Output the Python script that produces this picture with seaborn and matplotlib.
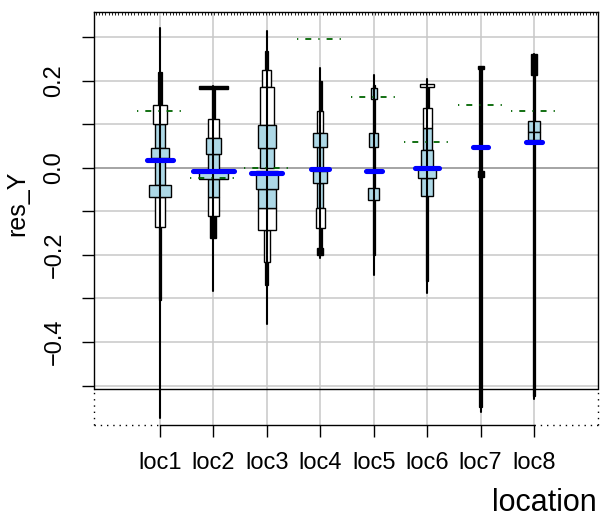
"""
Letter-value style residual plot per location (res_Y by location).
"""

import numpy as np
import pandas as pd
import seaborn as sns
import matplotlib.pyplot as plt
from matplotlib.ticker import FixedLocator, FuncFormatter, MultipleLocator


# ---------------------------------------------------------------------
# Data
# ---------------------------------------------------------------------
locations = ["loc1", "loc2", "loc3", "loc4", "loc5", "loc6", "loc7", "loc8"]

whisker_lo = [-0.575, -0.282, -0.359, -0.208, -0.246, -0.287, -0.560, -0.532]
whisker_hi = [0.321, 0.188, 0.315, 0.229, 0.214, 0.204, 0.232, 0.262]

mean_y = [0.018, -0.007, -0.011, -0.003, -0.008, 0.001, 0.049, 0.059]
mean_span = [0.25, 0.38, 0.29, 0.165, 0.15, 0.225, 0.14, 0.155]

ref_y = [0.130, -0.022, 0.001, 0.296, 0.164, 0.060, 0.145, 0.130]

# boxes: (lower, upper, depth level, fill code)
box_loc1 = [(0.145, 0.221, 7, "k"), (0.100, 0.145, 3, "w"), (0.047, 0.100, 5, "b"),
            (0.024, 0.047, 2, "b"), (-0.039, 0.024, 5, "b"), (-0.066, -0.039, 1, "b"),
            (-0.135, -0.066, 5, "w"), (-0.303, -0.135, 8, "k")]
box_loc2 = [(0.182, 0.188, 0, "k"), (0.112, 0.182, 7, "k"), (0.068, 0.112, 4, "w"),
            (0.032, 0.068, 3, "b"), (-0.005, 0.032, 4, "b"), (-0.025, -0.005, 0, "b"),
            (-0.066, -0.025, 4, "b"), (-0.110, -0.066, 4, "w"), (-0.161, -0.110, 6, "k")]
box_loc3 = [(0.225, 0.270, 7, "k"), (0.187, 0.225, 5, "w"), (0.099, 0.187, 3, "w"),
            (0.045, 0.099, 2, "b"), (-0.001, 0.045, 3, "b"), (-0.049, -0.008, 1, "b"),
            (-0.093, -0.049, 2, "b"), (-0.143, -0.093, 2, "w"), (-0.215, -0.143, 6, "w"),
            (-0.270, -0.215, 7, "k")]
box_loc4 = [(0.130, 0.200, 7, "k"), (0.080, 0.130, 6, "w"), (0.049, 0.080, 3, "b"),
            (-0.008, 0.049, 6, "b"), (-0.035, -0.008, 3, "b"), (-0.093, -0.035, 6, "b"),
            (-0.139, -0.093, 5, "w"), (-0.185, -0.139, 7, "k"), (-0.200, -0.185, 6, "k")]
box_loc5 = [(0.158, 0.183, 6, "b"), (0.048, 0.080, 5, "b"), (-0.074, -0.047, 4, "b"),
            (-0.200, 0.190, 8, "k")]
box_loc6 = [(0.186, 0.193, 3, "w"), (0.137, 0.186, 7, "k"), (0.091, 0.137, 5, "w"),
            (0.041, 0.091, 5, "b"), (0.000, 0.041, 4, "b"), (-0.024, 0.000, 2, "b"),
            (-0.064, -0.024, 4, "b"), (-0.260, -0.064, 8, "k")]
box_loc7 = [(0.228, 0.234, 6, "k"), (-0.021, -0.006, 6, "k"), (-0.550, 0.228, 8, "k")]
box_loc8 = [(0.213, 0.262, 6, "k"), (0.083, 0.108, 4, "b"), (0.064, 0.083, 4, "b"),
            (-0.525, 0.213, 8, "k")]

all_boxes = [box_loc1, box_loc2, box_loc3, box_loc4,
             box_loc5, box_loc6, box_loc7, box_loc8]

y_ticks = [-0.5, -0.4, -0.3, -0.2, -0.1, 0.0, 0.1, 0.2, 0.3]


# ---------------------------------------------------------------------
# Styling
# ---------------------------------------------------------------------
sns.set_theme(style="white")
plt.rcParams.update({
    "font.family": ["Liberation Sans", "DejaVu Sans"],
    "axes.unicode_minus": True,
    "text.color": "black",
    "axes.labelcolor": "black",
    "xtick.color": "black",
    "ytick.color": "black",
})

LEVEL_HALF_WIDTH = {0: 0.275, 1: 0.21, 2: 0.172, 3: 0.135, 4: 0.107,
                    5: 0.085, 6: 0.056, 7: 0.03, 8: 0.02}
FILL = {"w": "white", "b": "lightblue", "k": "black"}

X_MIN, X_MAX = -1.235, 8.198
Y_MIN, Y_MAX = -0.5908, 0.3586
FRAME_Y = -0.508
GRID_COLOR = "#c8c8c8"


def main() -> None:
    fig = plt.figure(figsize=(6.0, 5.19), dpi=100)
    ax = fig.add_axes([94 / 600, 1 - 425 / 519, 504 / 600, 413 / 519])

    pos = np.arange(len(locations))

    # grid
    for yv in y_ticks:
        ax.axhline(yv, color=GRID_COLOR, lw=1.1, zorder=0)
    for xv in pos:
        ax.axvline(xv, color=GRID_COLOR, lw=1.1, zorder=0)
    ax.axhline(0, color="#989898", lw=1.1, zorder=0.5)
    ax.axhline(FRAME_Y, color="black", lw=1.0, zorder=1)

    # boxes
    rows = []
    for p, boxes in zip(pos, all_boxes):
        for lo, hi, level, fill in boxes:
            rows.append({"pos": p, "lo": lo, "hi": hi, "level": level, "fill": fill})
    box_df = pd.DataFrame(rows).sort_values("level", ascending=False)

    for level, grp in box_df.groupby("level", sort=False):
        ax.bar(
            grp["pos"],
            grp["hi"] - grp["lo"],
            bottom=grp["lo"],
            width=2 * LEVEL_HALF_WIDTH[level],
            color=[FILL[f] for f in grp["fill"]],
            edgecolor="black",
            linewidth=0.9 if level >= 7 else 1.0,
            zorder=2 + (8 - level) * 0.1,
        )

    # whiskers
    wl = ax.vlines(pos, whisker_lo, whisker_hi, color="black", lw=1.5, zorder=3.5)
    wl.set_capstyle("round")

    # means
    span = np.asarray(mean_span)
    ml = ax.hlines(mean_y, pos - span, pos + span, color="#0000ff", lw=3.7, zorder=5)
    ml.set_capstyle("round")

    # reference marks
    ax.hlines(ref_y, pos - 0.43, pos + 0.43, color="#006400", lw=1.3,
              linestyles=[(0, (0.7, 3.9, 3.3, 3.9))], zorder=6)

    ax.set_xlim(X_MIN, X_MAX)
    ax.set_ylim(Y_MIN, Y_MAX)

    # frame: solid above FRAME_Y, dotted below
    frac = (FRAME_Y - Y_MIN) / (Y_MAX - Y_MIN)
    for side in ["left", "right"]:
        ax.spines[side].set_bounds(FRAME_Y, Y_MAX)
    ax.spines["bottom"].set_bounds(0, len(locations) - 1)
    for sp in ax.spines.values():
        sp.set_color("black")
        sp.set_linewidth(1.0)
    dots = (0, (1, 3.5))
    ax.axvline(X_MIN, ymin=0, ymax=frac, color="black", lw=1.0, ls=dots, clip_on=False)
    ax.axvline(X_MAX, ymin=0, ymax=frac, color="black", lw=1.0, ls=dots, clip_on=False)
    left_frac = (0 - X_MIN) / (X_MAX - X_MIN)
    right_frac = (len(locations) - 1 - X_MIN) / (X_MAX - X_MIN)
    ax.axhline(Y_MIN, xmin=0, xmax=left_frac, color="black", lw=1.0, ls=dots, clip_on=False)
    ax.axhline(Y_MIN, xmin=right_frac, xmax=1, color="black", lw=1.0, ls=dots, clip_on=False)

    # ticks
    ax.set_xticks(pos)
    ax.set_xticklabels(locations, fontsize=17, color="black")
    ax.yaxis.set_major_locator(FixedLocator(y_ticks))
    ax.yaxis.set_major_formatter(
        FuncFormatter(lambda v, _: "" if round(v * 10) % 2 else f"{v:.1f}".replace("-", "\u2212"))
    )
    ax.tick_params(axis="x", which="major", direction="out", length=8.6, width=1.0,
                   pad=11, bottom=True, colors="black")
    ax.tick_params(axis="y", which="major", direction="out", length=8.6, width=1.0,
                   pad=12, left=True, labelsize=17, colors="black")
    ax.xaxis.set_minor_locator(MultipleLocator(0.06))
    ax.tick_params(axis="x", which="minor", top=True, bottom=False, direction="in",
                   length=2, width=0.6)
    plt.setp(ax.get_yticklabels(), rotation=90, va="center")

    fig.text(17 / 600, 1 - 203 / 519, "res_Y", rotation=90, ha="center", va="center",
             fontsize=18, color="black")
    fig.text(597 / 600, 1 - 503 / 519, "location", ha="right", va="center",
             fontsize=22, color="black")

    fig.savefig("out.png", dpi=100)


if __name__ == "__main__":
    main()
